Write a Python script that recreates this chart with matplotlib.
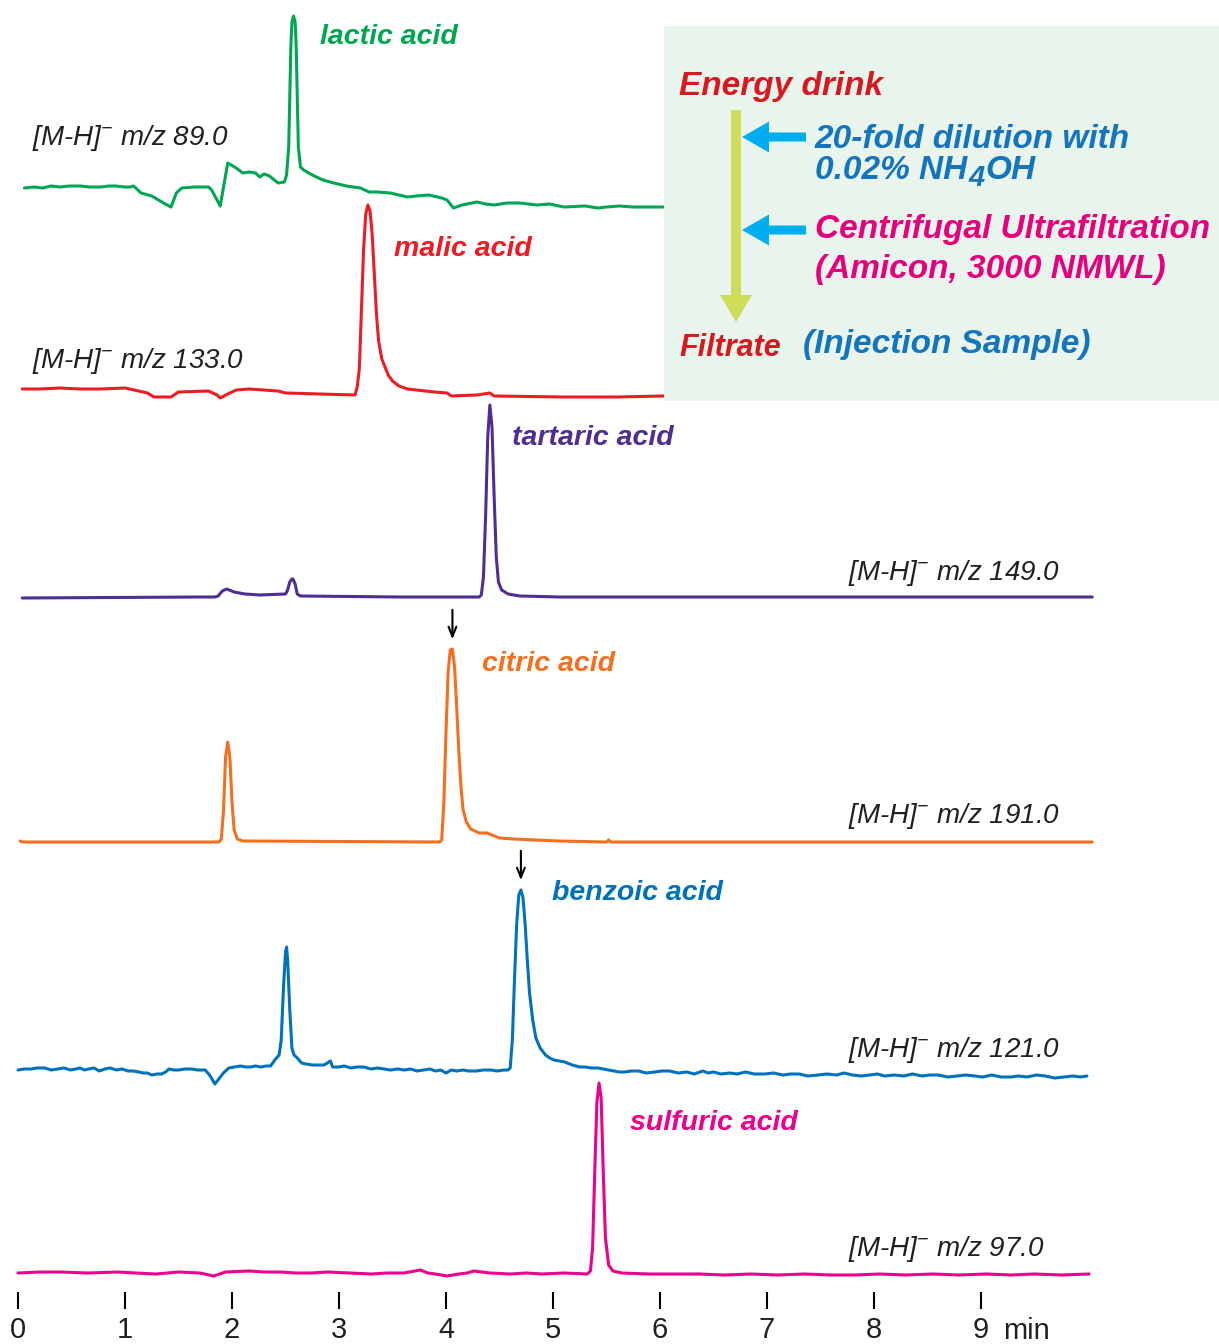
import matplotlib
matplotlib.use("Agg")
import matplotlib.pyplot as plt
from matplotlib.patches import FancyArrow, Rectangle

FONT = "Liberation Sans"
plt.rcParams["font.family"] = [FONT, "DejaVu Sans"]
plt.rcParams["mathtext.fontset"] = "custom"
plt.rcParams["mathtext.rm"] = "Liberation Sans:italic:bold"
plt.rcParams["mathtext.it"] = "Liberation Sans:italic:bold"
plt.rcParams["mathtext.sf"] = "Liberation Sans:italic"

# retention time (min) and signal (a.u., relative to the trace baseline)
lactic_t = [0.06, 0.15, 0.23, 0.31, 0.39, 0.48, 0.58, 0.67, 0.77, 0.85, 0.91, 1.00, 1.05, 1.08,
            1.15, 1.25, 1.36, 1.43, 1.48, 1.53, 1.65, 1.78, 1.81, 1.89, 1.96, 2.04, 2.10, 2.16,
            2.22, 2.26, 2.30, 2.35, 2.43, 2.49, 2.51, 2.53, 2.54, 2.55, 2.56, 2.575, 2.59, 2.60,
            2.61, 2.62, 2.64, 2.67, 2.75, 2.85, 2.95, 3.07, 3.20, 3.28, 3.36, 3.48, 3.64, 3.72,
            3.84, 3.96, 4.01, 4.07, 4.15, 4.29, 4.37, 4.45, 4.57, 4.69, 4.85, 4.97, 5.10, 5.30,
            5.42, 5.50, 5.62, 5.75, 5.90, 6.03]
lactic_s = [-1, 0, -1, 1, 0, 1, 1, 0, 0, 1, 1, 0, 0, 1,
            -6, -9, -16, -20, -6, -1, 0, 0, -3, -19, 24, 19, 14, 15,
            14, 10, 13, 11, 4, 5, 12, 40, 90, 140, 165, 171, 165, 140,
            90, 40, 20, 17, 12, 7, 4, 1, -1, -5, -5, -6, -10, -9,
            -8, -11, -13, -21, -18, -15, -17, -18, -16, -16, -18, -17, -20, -19,
            -21, -20, -19, -20, -20, -20]

malic_t = [0.04, 0.20, 0.39, 0.58, 0.77, 1.00, 1.21, 1.27, 1.43, 1.50, 1.78, 1.86, 1.89, 1.96,
           2.04, 2.16, 2.43, 2.50, 2.82, 3.15, 3.17, 3.19, 3.21, 3.23, 3.25, 3.27, 3.29, 3.31,
           3.33, 3.35, 3.37, 3.40, 3.43, 3.46, 3.50, 3.56, 3.64, 3.89, 4.01, 4.05, 4.29, 4.41,
           4.45, 5.10, 5.60, 6.03]
malic_s = [0, 0, 1, 0, 0, 1, -4, -8, -8, -3, -2, -6, -9, -5,
           -1, 0, -2, -4, -5, -6, 2, 20, 80, 140, 175, 184, 178, 155,
           115, 75, 48, 30, 22, 14, 8, 3, 0, -3, -4, -7, -6, -4,
           -7, -8, -8, -7]

tartaric_t = [0.04, 1.70, 1.84, 1.87, 1.91, 1.95, 2.02, 2.12, 2.26, 2.50, 2.52, 2.54, 2.56, 2.57,
              2.59, 2.61, 2.64, 3.57, 4.31, 4.33, 4.35, 4.37, 4.39, 4.41, 4.43, 4.45, 4.47, 4.49,
              4.52, 4.58, 4.69, 5.07, 10.04]
tartaric_s = [-1, 0, 0, 1, 6, 8, 5, 3, 2, 3, 7, 15, 18, 18,
              13, 3, 1, 0, 0, 2, 20, 80, 160, 192, 170, 100, 40, 15,
              7, 3, 1, 0, 0]

citric_t = [0.02, 0.04, 1.50, 1.88, 1.90, 1.92, 1.94, 1.96, 1.98, 2.00, 2.02, 2.05, 2.10, 3.94,
            3.96, 3.98, 4.00, 4.02, 4.04, 4.06, 4.08, 4.10, 4.12, 4.14, 4.16, 4.19, 4.23, 4.31,
            4.38, 4.43, 4.50, 4.63, 5.05, 5.50, 5.52, 5.54, 10.04]
citric_s = [1, 0, 0, 0, 3, 30, 85, 100, 85, 40, 12, 3, 1, 0,
            2, 40, 110, 170, 192, 193, 175, 135, 90, 55, 32, 20, 13, 9,
            9, 7, 4, 3, 1, 0, 2, 0, 0]

benzoic_t = [0.00, 0.06, 0.12, 0.18, 0.25, 0.31, 0.37, 0.43, 0.49, 0.54, 0.58, 0.62, 0.66, 0.71,
             0.76, 0.81, 0.86, 0.92, 0.97, 1.03, 1.08, 1.13, 1.17, 1.21, 1.25, 1.30, 1.34, 1.38,
             1.41, 1.46, 1.50, 1.56, 1.62, 1.68, 1.75, 1.79, 1.84, 1.92, 1.97, 2.02, 2.08, 2.13,
             2.17, 2.22, 2.27, 2.32, 2.36, 2.40, 2.44, 2.46, 2.48, 2.50, 2.51, 2.52, 2.54, 2.56,
             2.58, 2.61, 2.65, 2.69, 2.75, 2.80, 2.86, 2.92, 2.94, 3.00, 3.05, 3.11, 3.17, 3.23,
             3.30, 3.36, 3.42, 3.48, 3.55, 3.61, 3.67, 3.73, 3.79, 3.85, 3.90, 3.95, 4.00, 4.05,
             4.10, 4.16, 4.21, 4.28, 4.35, 4.42, 4.48, 4.54, 4.58, 4.60, 4.62, 4.64, 4.66, 4.68,
             4.70, 4.72, 4.74, 4.76, 4.78, 4.81, 4.84, 4.88, 4.93, 4.97, 5.01, 5.06, 5.11, 5.18,
             5.25, 5.30, 5.36, 5.42, 5.47, 5.52, 5.57, 5.62, 5.67, 5.73, 5.80, 5.87, 5.95, 6.02,
             6.09, 6.17, 6.25, 6.32, 6.40, 6.45, 6.50, 6.57, 6.65, 6.72, 6.80, 6.88, 6.98, 7.06,
             7.15, 7.22, 7.30, 7.38, 7.48, 7.56, 7.65, 7.72, 7.80, 7.88, 7.96, 8.03, 8.10, 8.19,
             8.28, 8.36, 8.45, 8.52, 8.60, 8.69, 8.78, 8.86, 8.94, 9.02, 9.10, 9.19, 9.28, 9.35,
             9.43, 9.52, 9.60, 9.69, 9.78, 9.86, 9.93, 9.99]
benzoic_s = [0, 1, 1, 2, 2, 0, 1, 2, 0, 1, 2, 0, 1, 2,
             -1, 1, 2, 0, 1, -1, -1, -2, -3, -3, -5, -4, -4, -2,
             1, 0, 0, 1, 1, 0, 0, -5, -14, -3, 2, 3, 4, 3,
             3, 4, 3, 4, 4, 10, 15, 30, 80, 118, 123, 110, 60, 22,
             15, 12, 7, 6, 5, 5, 5, 9, 3, 3, 4, 2, 3, 3,
             1, 2, 1, 0, 1, 0, 1, -1, 0, 1, -1, 0, -3, 0,
             -1, 0, -1, -1, 0, 0, -1, 0, 0, 2, 30, 90, 145, 175,
             180, 172, 145, 110, 78, 50, 32, 22, 15, 12, 10, 9, 8, 5,
             3, 3, 2, 2, 1, 0, -1, -2, -2, -1, -1, -3, -2, -1,
             -1, -3, -2, -4, -1, -3, -2, -4, -3, -4, -2, -4, -4, -3,
             -5, -4, -4, -6, -5, -4, -5, -3, -5, -6, -5, -4, -6, -5,
             -6, -4, -6, -5, -5, -7, -6, -5, -6, -7, -5, -7, -7, -6,
             -7, -5, -6, -8, -7, -6, -7, -6]

sulfuric_t = [0.00, 0.20, 0.40, 0.65, 0.93, 1.10, 1.29, 1.50, 1.70, 1.83, 1.94, 2.16, 2.30, 2.45,
              2.60, 2.74, 2.90, 3.10, 3.30, 3.45, 3.61, 3.76, 3.83, 3.90, 4.01, 4.12, 4.20, 4.26,
              4.41, 4.60, 4.75, 4.90, 5.10, 5.32, 5.35, 5.37, 5.39, 5.41, 5.43, 5.45, 5.47, 5.49,
              5.52, 5.56, 5.64, 5.90, 6.15, 6.37, 6.60, 6.85, 7.10, 7.35, 7.60, 7.82, 8.05, 8.30,
              8.55, 8.80, 9.05, 9.28, 9.50, 9.75, 10.01]
sulfuric_s = [0, 1, 1, 0, 1, 0, -1, 1, 0, -3, 1, 2, 1, 1,
              0, 0, 1, 0, -1, 0, 0, 3, 0, -1, -3, -1, 0, 2,
              0, -1, 0, -1, 0, -1, 2, 25, 100, 170, 190, 175, 100, 35,
              8, 2, 0, -1, -1, -1, -2, -1, -2, -1, -2, -2, -1, -2,
              -1, -2, -1, -2, -1, -2, -1]

tick_values = list(range(10))

GREEN = "#00A651"
RED = "#ED1C24"
PURPLE = "#4F2D91"
ORANGE = "#F37021"
BLUE = "#0072BC"
MAGENTA = "#EC008C"
TEXT_GRAY = "#231F20"

# label, data, colour, baseline (figure px from top), name position, m/z, m/z position
traces = [
    ("lactic acid", lactic_t, lactic_s, GREEN, 187, (320, 44), "89.0", (32, 145)),
    ("malic acid", malic_t, malic_s, RED, 389, (394, 256), "133.0", (32, 368)),
    ("tartaric acid", tartaric_t, tartaric_s, PURPLE, 597, (512, 445), "149.0", (848, 580)),
    ("citric acid", citric_t, citric_s, ORANGE, 842, (482, 671), "191.0", (848, 823)),
    ("benzoic acid", benzoic_t, benzoic_s, BLUE, 1070, (552, 900), "121.0", (848, 1057)),
    ("sulfuric acid", sulfuric_t, sulfuric_s, MAGENTA, 1273, (630, 1130), "97.0", (848, 1256)),
]

W, H = 1219, 1344
PX_PER_MIN = 107.0
X0 = 18.0

fig = plt.figure(figsize=(W / 100, H / 100), dpi=100)
fig.patch.set_facecolor("white")

ax = fig.add_axes([0, 0, 1, 1])
ax.set_xlim(-X0 / PX_PER_MIN, (W - X0) / PX_PER_MIN)
ax.set_ylim(H, 0)
ax.axis("off")

for name, t, s, color, base, _, _, _ in traces:
    ax.plot(t, [base - v for v in s], color=color, lw=2.2,
            solid_joinstyle="round", solid_capstyle="round")

# arrows marking citric and benzoic peaks
for t, s, base in [(citric_t, citric_s, 842), (benzoic_t, benzoic_s, 1070)]:
    i = s.index(max(s))
    top = base - s[i]
    ax.annotate("", xy=(t[i], top - 7), xytext=(t[i], top - 42),
                arrowprops=dict(arrowstyle="->,head_length=0.7,head_width=0.28",
                                lw=1.5, color="black"))

# time axis
axis_ax = fig.add_axes([0, (H - 1309) / H, 1, 0.0005])
axis_ax.set_xlim(ax.get_xlim())
axis_ax.set_frame_on(False)
axis_ax.set_yticks([])
axis_ax.set_xticks(tick_values)
axis_ax.set_xticklabels([str(v) for v in tick_values])
axis_ax.tick_params(axis="x", direction="in", length=12, width=1.5, pad=5,
                    labelsize=21, color="black", labelcolor=TEXT_GRAY)

# overlay in pixel coordinates for the labels and the sample-prep box
ov = fig.add_axes([0, 0, 1, 1])
ov.set_xlim(0, W)
ov.set_ylim(H, 0)
ov.axis("off")

ov.text(1003, 1339, "min", fontsize=21, color=TEXT_GRAY, ha="left", va="baseline")

for name, _, _, color, _, (lx, ly), mz, (mx, my) in traces:
    ov.text(lx, ly, name, fontsize=20.5, fontweight="bold", fontstyle="italic",
            color=color, ha="left", va="baseline")
    ov.text(mx, my, r"[M-H]$^{\mathsf{-}}$ m/z " + mz, fontsize=20, fontstyle="italic",
            color=TEXT_GRAY, ha="left", va="baseline")

ov.add_patch(Rectangle((664, 26), W - 664, 375, facecolor="#E9F5EC", edgecolor="none", zorder=3))

ov.add_patch(FancyArrow(736, 110, 0, 212, width=10, head_width=32, head_length=27,
                        length_includes_head=True, color="#CFDD5B", lw=0, zorder=4))
for y in (137, 230):
    ov.add_patch(FancyArrow(806, y, -64, 0, width=9, head_width=31, head_length=27,
                            length_includes_head=True, color="#00AEEF", lw=0, zorder=4))

BOX_RED = "#D7191F"
BOX_BLUE = "#1475BC"
BOX_MAGENTA = "#E6007E"
box_kw = dict(fontsize=24, fontweight="bold", fontstyle="italic", ha="left",
              va="baseline", zorder=5)
ov.text(679, 95, "Energy drink", color=BOX_RED, **box_kw)
ov.text(815, 148, "20-fold dilution with", color=BOX_BLUE, **box_kw)
nh = ov.text(815, 179, "0.02% NH", color=BOX_BLUE, **box_kw)
sub4 = ov.annotate("4", xy=(1, 0), xycoords=nh, xytext=(1, -4), textcoords="offset points",
                   color=BOX_BLUE, fontsize=21, fontweight="bold", fontstyle="italic",
                   ha="left", va="bottom", zorder=5)
ov.annotate("OH", xy=(1, 0), xycoords=sub4, xytext=(0, 4), textcoords="offset points",
            color=BOX_BLUE, fontsize=24, fontweight="bold", fontstyle="italic",
            ha="left", va="bottom", zorder=5)
ov.text(815, 238, "Centrifugal Ultrafiltration", color=BOX_MAGENTA, **box_kw)
ov.text(815, 278, "(Amicon, 3000 NMWL)", color=BOX_MAGENTA, **box_kw)
ov.text(679, 356, "Filtrate", color=BOX_RED, **dict(box_kw, fontsize=22))
ov.text(803, 353, "(Injection Sample)", color=BOX_BLUE, **box_kw)

fig.savefig("out.png", dpi=100, facecolor="white")
